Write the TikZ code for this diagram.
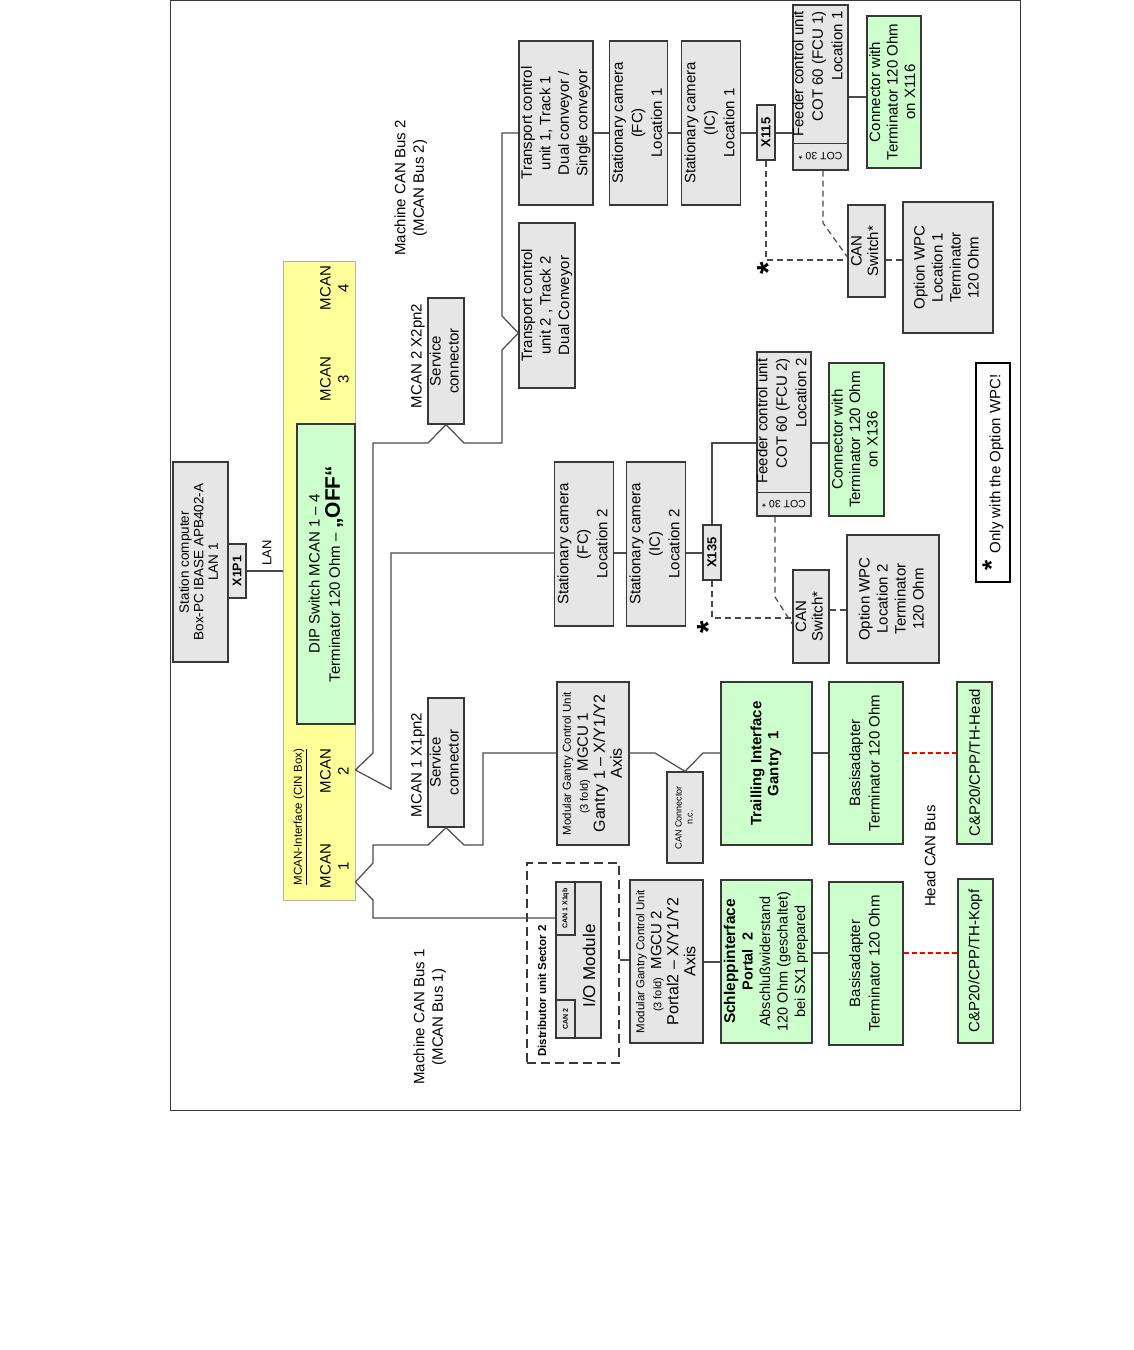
\documentclass[tikz,border=0pt]{standalone}
\usepackage{fontspec}
\setmainfont{Liberation Sans}
\usepackage{graphicx}
\usetikzlibrary{calc}
\definecolor{boxgray}{HTML}{E6E6E6}
\definecolor{boxgreen}{HTML}{CCFFCC}
\definecolor{boxyellow}{HTML}{FFFF99}
\definecolor{boxline}{HTML}{383838}
\definecolor{lineclr}{HTML}{4A4A4A}
\newcommand\fs[2]{\fontsize{#1}{#2}\selectfont}
\newcommand\vt[1]{\rotatebox{90}{\begin{tabular}{@{}c@{}}#1\end{tabular}}}
\newcommand\vtr[1]{\rotatebox{90}{\begin{tabular}{@{}r@{}}#1\end{tabular}}}
\begin{document}
\begin{tikzpicture}[x=1pt,y=-1pt,
  gbox/.style={draw=boxline, fill=boxgray, line width=1.3pt, inner sep=0pt, font=\fs{15}{18.5}},
  grn/.style={gbox, fill=boxgreen},
  ybox/.style={draw=gray!60, fill=boxyellow, line width=0.8pt, inner sep=0pt},
  lbl/.style={inner sep=0pt, font=\fs{15}{18.5}},
  conn/.style={draw=lineclr, line width=1.2pt},
  dconn/.style={conn, dash pattern=on 6pt off 4pt},
  reddot/.style={draw=red, line width=2.8pt, dash pattern=on 5pt off 3pt},
  bigstar/.style={inner sep=0pt, font=\bfseries\fs{32}{32}}]
\useasboundingbox (0,0) rectangle (1134,1350);
\fill[white] (0,0) rectangle (1134,1350);
\draw[line width=1pt, boxline] (170.5,0.5) rectangle (1020,1110);

% MCAN interface
\node[ybox, minimum width=72pt, minimum height=639pt] (cin) at (319,580.5) {};
\node[grn, minimum width=58pt, minimum height=300pt] (dip) at (326,574)
  {\vt{DIP Switch MCAN 1 – 4\\Terminator 120 Ohm – {\bfseries\fs{21}{21}„OFF“}}};
\node[lbl, font=\fs{15}{18}] (m4) at (336,288) {\vt{MCAN\\4}};
\node[lbl, font=\fs{15}{18}] (m3) at (336,379) {\vt{MCAN\\3}};
\node[lbl, font=\fs{15}{18}] (m2) at (336,771) {\vt{MCAN\\2}};
\node[lbl, font=\fs{15}{18}] (m1) at (336,866) {\vt{MCAN\\1}};
\node[lbl, font=\fs{11.5}{13}] (cinlbl) at (300,817) {\rotatebox{90}{\underline{MCAN-Interface (CIN Box)}}};

% station computer
\node[gbox, minimum width=55pt, minimum height=200pt, font=\fs{13.5}{14.5}] (pc) at (200.5,562)
  {\vt{Station computer\\Box-PC IBASE APB402-A\\LAN 1}};
\node[gbox, minimum width=18pt, minimum height=54pt, font=\bfseries\fs{12.5}{14}] (x1p1) at (237,571) {\rotatebox{90}{X1P1}};
\node[lbl, font=\fs{13}{14}] (lanlbl) at (267,553) {\rotatebox{90}{LAN}};

% service connectors
\node[gbox, minimum width=36pt, minimum height=126pt, font=\fs{15}{18}] (sc2) at (446,361) {\vt{Service\\connector}};
\node[lbl] (sc2lbl) at (418,356) {\rotatebox{90}{MCAN 2 X2pn2}};
\node[gbox, minimum width=36pt, minimum height=129pt, font=\fs{15}{18}] (sc1) at (446,762.5) {\vt{Service\\connector}};
\node[lbl] (sc1lbl) at (418,765) {\rotatebox{90}{MCAN 1 X1pn2}};

% bus labels
\node[lbl] (bus2) at (411,188) {\vt{Machine CAN Bus 2\\(MCAN Bus 2)}};
\node[lbl] (bus1) at (430,1017) {\vt{Machine CAN Bus 1\\(MCAN Bus 1)}};
\node[lbl] (headbus) at (930,856) {\rotatebox{90}{Head CAN Bus}};

% location 1
\node[gbox, minimum width=74pt, minimum height=164pt] (tcu1) at (556,123)
  {\vt{Transport control\\unit 1, Track 1\\Dual conveyor /\\Single conveyor}};
\node[gbox, minimum width=56pt, minimum height=165pt] (tcu2) at (547,305.5)
  {\vt{Transport control\\unit 2 , Track 2\\Dual Conveyor}};
\node[gbox, minimum width=55pt, minimum height=164pt, font=\fs{15}{19.5}] (camfc1) at (638.5,123)
  {\vt{Stationary camera\\(FC)\\Location 1}};
\node[gbox, minimum width=56pt, minimum height=164pt, font=\fs{15}{19.5}] (camic1) at (711,123)
  {\vt{Stationary camera\\(IC)\\Location 1}};
\node[gbox, minimum width=18pt, minimum height=55pt, font=\bfseries\fs{13}{14}] (x115) at (766,132.5) {\rotatebox{90}{X115}};
\node[gbox, minimum width=55pt, minimum height=165pt] (fcu1) at (820.5,87.5) {};
\node[lbl, font=\fs{15}{19.5}] (fcu1txt) at (819,74) {\vtr{Feeder control unit\\COT 60 (FCU 1)\\Location 1}};
\node[lbl, font=\fs{10.5}{12}] (cot1) at (820.5,156.5) {\rotatebox{180}{COT 30 *}};
\node[grn, minimum width=54pt, minimum height=152pt, font=\fs{15}{17.5}] (t116) at (894,92)
  {\vt{Connector with\\Terminator 120 Ohm\\on X116}};
\node[gbox, minimum width=37pt, minimum height=92pt, font=\fs{15}{16.5}] (csw1) at (866.5,251) {\vt{CAN\\Switch*}};
\node[gbox, minimum width=90pt, minimum height=131pt, font=\fs{15}{18}] (wpc1) at (948,267.5)
  {\vt{Option WPC\\Location 1\\Terminator\\120 Ohm}};
\node[bigstar] (star1) at (768.5,268) {\rotatebox{90}{*}};

% location 2
\node[gbox, minimum width=54pt, minimum height=164pt, font=\fs{15}{19.5}] (camfc2) at (584,544)
  {\vt{Stationary camera\\(FC)\\Location 2}};
\node[gbox, minimum width=54pt, minimum height=164pt, font=\fs{15}{19.5}] (camic2) at (656,544)
  {\vt{Stationary camera\\(IC)\\Location 2}};
\node[gbox, minimum width=18pt, minimum height=55pt, font=\bfseries\fs{13}{14}] (x135) at (712,552.5) {\rotatebox{90}{X135}};
\node[gbox, minimum width=54pt, minimum height=164pt] (fcu2) at (784,434) {};
\node[lbl, font=\fs{15}{19.5}] (fcu2txt) at (783,421) {\vtr{Feeder control unit\\COT 60 (FCU 2)\\Location 2}};
\node[lbl, font=\fs{10.5}{12}] (cot2) at (784,504) {\rotatebox{180}{COT 30 *}};
\node[grn, minimum width=55pt, minimum height=153pt, font=\fs{15}{17.5}] (t136) at (856.5,439.5)
  {\vt{Connector with\\Terminator 120 Ohm\\on X136}};
\node[gbox, minimum width=36pt, minimum height=93pt, font=\fs{15}{16.5}] (csw2) at (811,616.5) {\vt{CAN\\Switch*}};
\node[gbox, minimum width=92pt, minimum height=128pt, font=\fs{15}{18}] (wpc2) at (893,599)
  {\vt{Option WPC\\Location 2\\Terminator\\120 Ohm}};
\node[bigstar] (star2) at (708.5,627) {\rotatebox{90}{*}};

% note
\node[draw=black, fill=white, line width=1.3pt, inner sep=0pt, minimum width=34pt, minimum height=219pt, font=\fs{15}{17}] (note) at (993,472.5)
  {\rotatebox{90}{{\bfseries\fs{26}{26}*}\hspace{7pt}Only with the Option WPC!}};

% gantry 1
\node[gbox, minimum width=72pt, minimum height=163pt, font=\fs{15}{17}] (mgcu1) at (593,763.5)
  {\vt{{\fs{11.5}{13}Modular Gantry Control Unit}\\{\fs{11}{13}(3 fold)}\ \ MGCU 1\\{\fs{16}{18}Gantry 1 – X/Y1/Y2}\\{\fs{16}{18}Axis}}};
\node[gbox, minimum width=36pt, minimum height=91pt, font=\fs{9}{11}] (canc) at (685,817.5) {\vt{CAN Connector\\n.c.}};
\node[grn, minimum width=91pt, minimum height=163pt, font=\bfseries\fs{15}{17}] (trail1) at (766.5,763.5)
  {\vt{Trailling Interface\\Gantry\ \ 1}};
\node[grn, minimum width=74pt, minimum height=162pt, font=\fs{15}{19.5}] (basis1) at (866,763)
  {\vt{Basisadapter\\Terminator 120 Ohm}};
\node[grn, minimum width=35pt, minimum height=162pt] (head1) at (974.5,763) {\rotatebox{90}{C\&P20/CPP/TH-Head}};

% gantry 2
\node[draw=boxline, dash pattern=on 9pt off 5pt, line width=1.1pt, minimum width=92pt, minimum height=200pt, inner sep=0pt] (dist) at (573,963) {};
\node[lbl, font=\bfseries\fs{11.5}{13}] (distlbl) at (542,991) {\rotatebox{90}{Distributor unit Sector 2}};
\node[gbox, minimum width=45pt, minimum height=156pt] (iomod) at (578.5,960) {};
\node[gbox, minimum width=19pt, minimum height=53pt, font=\bfseries\fs{7}{8}] (can1x) at (565.5,908.5) {\rotatebox{90}{CAN 1 X1qb}};
\node[gbox, minimum width=19pt, minimum height=38pt, font=\bfseries\fs{7}{8}] (can2) at (565.5,1019) {\rotatebox{90}{CAN 2}};
\node[lbl, font=\fs{17}{19}] (iotxt) at (589,966) {\rotatebox{90}{I/O Module}};
\node[gbox, minimum width=73pt, minimum height=163pt, font=\fs{15}{17}] (mgcu2) at (666.5,961.5)
  {\vt{{\fs{11.5}{13}Modular Gantry Control Unit}\\{\fs{11}{13}(3 fold)}\ \ MGCU 2\\{\fs{16}{18}Portal2 – X/Y1/Y2}\\{\fs{16}{18}Axis}}};
\node[grn, minimum width=91pt, minimum height=163pt, font=\fs{14.5}{17.5}] (schlepp) at (766.5,961.5)
  {\vt{{\bfseries\fs{15.5}{17.5}Schleppinterface}\\{\bfseries Portal\ \ 2}\\Abschlußwiderstand\\120 Ohm (geschaltet)\\bei SX1 prepared}};
\node[grn, minimum width=74pt, minimum height=163pt, font=\fs{15}{19.5}] (basis2) at (866,963.5)
  {\vt{Basisadapter\\Terminator 120 Ohm}};
\node[grn, minimum width=35pt, minimum height=164pt] (head2) at (975.5,961) {\rotatebox{90}{C\&P20/CPP/TH-Kopf}};

% connectors
\draw[conn] (x1p1.east) -- (cin.west |- x1p1.east);
\draw[conn] (cin.east |- 0,770) -- (373,753) -- (373,443) -- (428,443) -- (sc2.south) -- (464,443) -- (502,443) -- (502,350) -- (tcu2.west |- 0,333) -- (502,316) -- (502,133) -- (tcu1.west |- 0,133);
\draw[conn] (cin.east |- 0,770) -- (391,789) -- (391,553) -- (camfc2.west |- 0,553);
\draw[conn] (camfc2.east |- 0,553) -- (camic2.west |- 0,553);
\draw[conn] (camic2.east |- 0,553) -- (x135.west |- 0,553);
\draw[conn] (x135.north) -- (x135.north |- 0,443) -- (fcu2.west |- 0,443);
\draw[conn] (fcu2.east |- 0,443) -- (t136.west |- 0,443);
\draw[dconn] (x135.south) -- (x135.south |- 0,618) -- (csw2.west |- 0,618);
\draw[dconn] (fcu2.south -| 775,0) -- (775,597) -- (csw2.west |- 0,624);
\draw[dconn] (csw2.east |- 0,610) -- (wpc2.west |- 0,610);
\draw[line width=1pt, boxline] (fcu2.west |- 0,492) -- (fcu2.east |- 0,492);
\draw[line width=1pt, boxline] (fcu1.west |- 0,143) -- (fcu1.east |- 0,143);

\draw[conn] (tcu1.east |- 0,133) -- (camfc1.west |- 0,133);
\draw[conn] (camfc1.east |- 0,133) -- (camic1.west |- 0,133);
\draw[conn] (camic1.east |- 0,133) -- (x115.west |- 0,133);
\draw[conn] (x115.east |- 0,133) -- (fcu1.west |- 0,133);
\draw[conn] (fcu1.east |- 0,97) -- (t116.west |- 0,97);
\draw[dconn] (x115.south) -- (x115.south |- 0,260) -- (csw1.west |- 0,260);
\draw[dconn] (fcu1.south -| 823,0) -- (823,223) -- (csw1.west |- 0,257);
\draw[dconn] (csw1.east |- 0,260) -- (wpc1.west |- 0,260);

\draw[conn] (cin.east |- 0,882) -- (373,863) -- (373,845) -- (428,845) -- (sc1.south) -- (464,845) -- (483,845) -- (483,753) -- (mgcu1.west |- 0,753);
\draw[conn] (cin.east |- 0,882) -- (373,900) -- (373,918) -- (iomod.west |- 0,918);
\draw[conn] (mgcu1.east |- 0,753) -- (655,753) -- (canc.north) -- (703,753) -- (trail1.west |- 0,753);
\draw[conn] (trail1.east |- 0,753) -- (basis1.west |- 0,753);
\draw[reddot] (basis1.east |- 0,753) -- (head1.west |- 0,753);
\draw[conn] (dist.east |- 0,960) -- (mgcu2.west |- 0,960);
\draw[conn] (mgcu2.east |- 0,962) -- (schlepp.west |- 0,962);
\draw[conn] (schlepp.east |- 0,953) -- (basis2.west |- 0,953);
\draw[reddot] (basis2.east |- 0,953) -- (head2.west |- 0,953);
\end{tikzpicture}
\end{document}
